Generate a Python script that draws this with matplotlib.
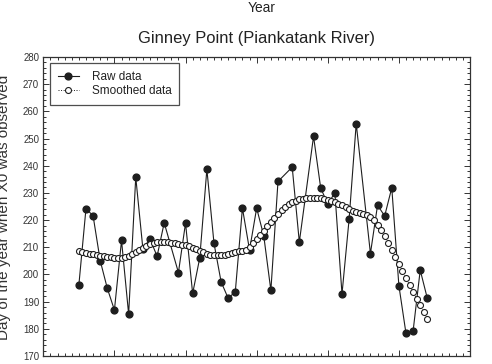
import numpy as np
import matplotlib
matplotlib.use("Agg")
import matplotlib.pyplot as plt
from matplotlib.ticker import MultipleLocator, NullFormatter

plt.rcParams['font.family'] = ['Liberation Sans', 'DejaVu Sans']

# Observed day of year, one value per year (some years missing)
raw_years = [1955, 1956, 1957, 1958, 1959, 1960, 1961, 1962, 1963, 1964,
             1965, 1966, 1967, 1969, 1970, 1971, 1972, 1973, 1974, 1975,
             1976, 1977, 1978, 1979, 1980, 1981, 1982, 1983, 1985, 1986,
             1988, 1989, 1990, 1991, 1992, 1993, 1994, 1996, 1997, 1998,
             1999, 2000, 2001, 2002, 2003, 2004]
raw_days = [196.1, 224.2, 221.6, 205.1, 194.9, 186.9, 212.5, 185.4, 235.8, 209.5,
            213.1, 206.7, 219.0, 200.7, 218.9, 193.0, 206.1, 238.7, 211.5, 197.3,
            191.2, 193.7, 224.4, 209.0, 224.4, 214.2, 194.1, 234.2, 239.5, 211.9,
            250.8, 231.9, 225.8, 230.1, 192.8, 220.3, 255.5, 207.7, 225.5, 221.5,
            231.9, 195.9, 178.3, 179.2, 201.6, 191.2]

# Smoothed series on a half-year grid starting in 1955
smooth_start = 1955
smooth_days = [
    208.8, 208.4, 208.0, 207.7, 207.4, 207.1, 206.9, 206.7, 206.5, 206.3,
    206.1, 205.9, 206.0, 206.4, 206.9, 207.5, 208.2, 209.0, 209.8, 210.6,
    211.2, 211.6, 211.8, 211.9, 211.9, 211.8, 211.7, 211.5, 211.3, 211.0,
    210.7, 210.3, 209.8, 209.2, 208.6, 208.1, 207.6, 207.3, 207.1, 207.0,
    207.0, 207.2, 207.5, 207.9, 208.3, 208.6, 208.8, 209.1, 210.0, 211.4,
    212.9, 214.5, 216.1, 217.7, 219.4, 220.9, 222.3, 223.6, 224.8, 225.8,
    226.6, 227.2, 227.6, 227.9, 228.1, 228.2, 228.2, 228.1, 228.0, 227.8,
    227.5, 227.2, 226.7, 226.1, 225.4, 224.8, 224.1, 223.5, 223.0, 222.6,
    222.2, 221.7, 221.0, 219.9, 218.3, 216.4, 214.2, 211.7, 209.1, 206.5,
    203.9, 201.3, 198.7, 196.1, 193.6, 191.1, 188.6, 186.1, 183.6]
smooth_years = smooth_start + 0.5 * np.arange(len(smooth_days))

x_range = (1950, 2010)
y_range = (170, 280)
y_ticks = np.arange(170, 281, 10)

ink = '#1e1e1e'

fig = plt.figure(figsize=(4.92, 3.64), dpi=100)
ax = fig.add_axes([43.3 / 492, 1 - 356 / 364, (470 - 43.3) / 492, (356 - 57) / 364])

ax.plot(raw_years, raw_days, '-o', color=ink, lw=0.8, ms=4.9,
        mfc=ink, mec=ink, label='Raw data', zorder=2)
ax.plot(smooth_years, smooth_days, ':o', color=ink, lw=0.7, ms=4.3,
        mfc='white', mec=ink, mew=0.8, label='Smoothed data', zorder=3)

ax.set_xlim(*x_range)
ax.set_ylim(*y_range)
ax.xaxis.set_major_locator(MultipleLocator(10))
ax.xaxis.set_minor_locator(MultipleLocator(1))
ax.xaxis.set_major_formatter(NullFormatter())
ax.set_yticks(y_ticks)
ax.yaxis.set_minor_locator(MultipleLocator(2))

ax.tick_params(which='both', direction='in', top=True, right=True,
               color='#333333', width=0.7)
ax.tick_params(which='major', length=4)
ax.tick_params(which='minor', length=2.2)
ax.tick_params(axis='y', labelsize=6.9, labelcolor='#333333', pad=3)
for s in ax.spines.values():
    s.set_color('#333333')
    s.set_linewidth(0.9)

ax.set_title('Ginney Point (Piankatank River)', fontsize=11.9,
             color='#222222', pad=10)
fig.text(261.5 / 492, 1 - 8 / 364, 'Year', fontsize=9.9, color='#222222',
         ha='center', va='center')
fig.text(3.7 / 492, 1 - 207 / 364, 'Day of the year when X0 was observed',
         fontsize=11, color='#333333', rotation=90, ha='center', va='center')

leg = ax.legend(loc='upper left', bbox_to_anchor=(6.7 / 426.7, 1 - 6 / 299),
                borderaxespad=0, fontsize=8.5, frameon=True, fancybox=False,
                edgecolor='#222222', handlelength=1.8, handletextpad=1.1,
                labelspacing=0.2, borderpad=0.65)
leg.get_frame().set_linewidth(0.9)
for t in leg.get_texts():
    t.set_color('#222222')

fig.savefig('out.png', dpi=100)
